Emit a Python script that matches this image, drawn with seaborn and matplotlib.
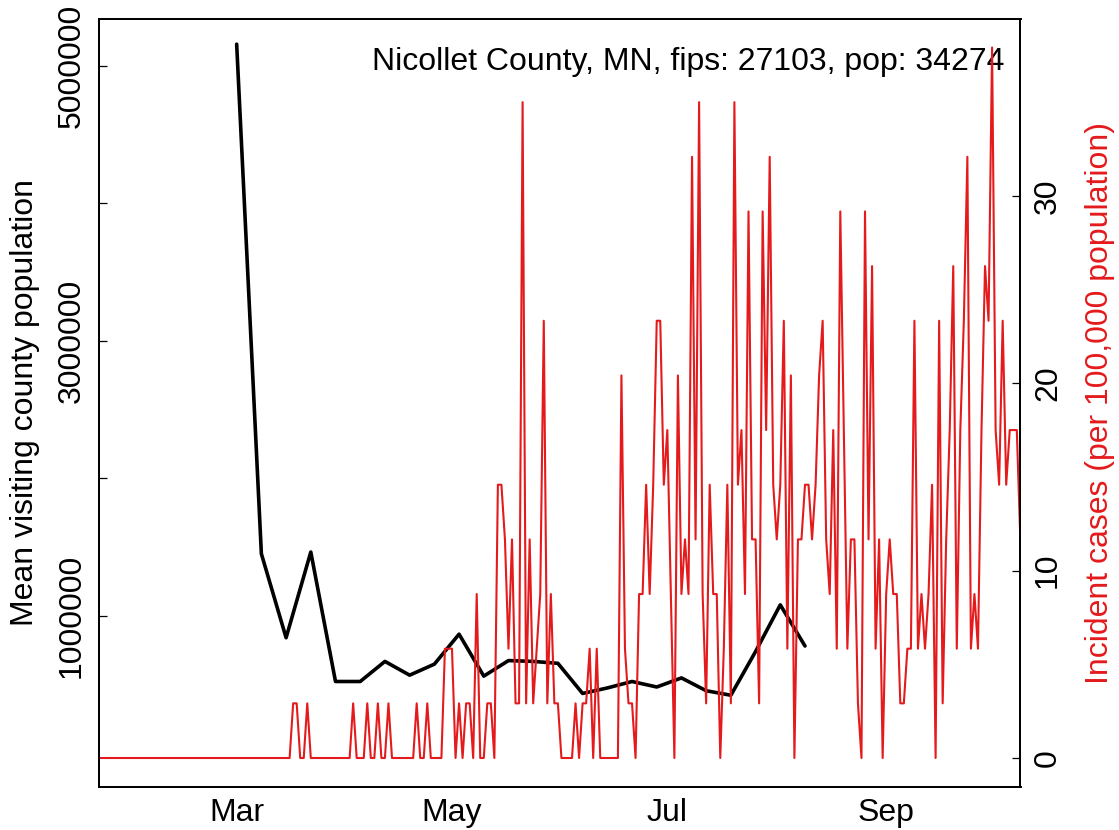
import numpy as np
import pandas as pd
import matplotlib
matplotlib.use("Agg")
import matplotlib.pyplot as plt
import matplotlib.dates as mdates
import seaborn as sns

# DATA
COUNTY_POP = 34274
TITLE = "Nicollet County, MN, fips: 27103, pop: 34274"

# daily new cases, one value per day starting 2020-01-22
case_start = "2020-01-22"
daily_cases = [
    0, 0, 0, 0, 0, 0, 0, 0, 0, 0, 0, 0, 0, 0, 0, 0, 0, 0, 0, 0,
    0, 0, 0, 0, 0, 0, 0, 0, 0, 0, 0, 0, 0, 0, 0, 0, 0, 0, 0, 0,
    0, 0, 0, 0, 0, 0, 0, 0, 0, 0, 0, 0, 0, 0, 0, 1, 1, 0, 0, 1,
    0, 0, 0, 0, 0, 0, 0, 0, 0, 0, 0, 0, 1, 0, 0, 0, 1, 0, 0, 1,
    0, 0, 1, 0, 0, 0, 0, 0, 0, 0, 1, 0, 0, 1, 0, 0, 0, 0, 2, 2,
    2, 0, 1, 0, 1, 1, 0, 3, 0, 0, 1, 1, 0, 5, 5, 4, 2, 4, 1, 1,
    12, 1, 4, 1, 2, 3, 8, 1, 3, 1, 1, 0, 0, 0, 0, 1, 0, 1, 1, 2,
    0, 2, 0, 0, 0, 0, 0, 0, 7, 2, 1, 1, 0, 3, 3, 5, 3, 5, 8, 8,
    5, 6, 3, 0, 7, 3, 4, 3, 11, 4, 12, 3, 1, 5, 3, 3, 0, 2, 5, 1,
    12, 5, 6, 3, 10, 4, 4, 1, 10, 6, 11, 5, 4, 5, 8, 2, 7, 0, 4, 4,
    5, 5, 4, 5, 7, 8, 4, 3, 6, 2, 10, 6, 2, 4, 4, 1, 0, 10, 4, 9,
    2, 4, 0, 3, 4, 3, 3, 1, 1, 2, 2, 8, 2, 3, 2, 3, 5, 0, 8, 1,
    4, 6, 9, 2, 6, 8, 11, 2, 3, 2, 6, 9, 8, 13, 6, 5, 8, 5, 6, 6,
    6, 4,
]

# weekly mean visiting county population, starting 2020-03-01
visit_start = "2020-03-01"
mean_visiting_pop = [
    5155000, 1451000, 841000, 1464000, 523000, 523000, 669000, 569000,
    649000, 867000, 562000, 675000, 669000, 655000, 436000, 476000,
    523000, 483000, 549000, 456000, 423000, 741000, 1080000, 781000,
]

month_ticks = ["2020-03-01", "2020-05-01", "2020-07-01", "2020-09-01"]
left_ticks = [1000000, 2000000, 3000000, 4000000, 5000000]
left_labels = ["1000000", "", "3000000", "", "5000000"]
right_ticks = [0, 10, 20, 30]

cases = pd.DataFrame({
    "date": pd.date_range(case_start, periods=len(daily_cases), freq="D"),
    "incidence": np.array(daily_cases) / COUNTY_POP * 100000,
})
visits = pd.DataFrame({
    "date": pd.date_range(visit_start, periods=len(mean_visiting_pop), freq="7D"),
    "mean_pop": mean_visiting_pop,
})

# STYLE
sns.set_style("white")
plt.rcParams["font.family"] = ["Liberation Sans", "DejaVu Sans"]
plt.rcParams["text.color"] = "black"
plt.rcParams["axes.labelcolor"] = "black"
plt.rcParams["xtick.color"] = "black"
plt.rcParams["ytick.color"] = "black"
FS = 23
RED = "#E41A1C"

fig = plt.figure(figsize=(11.19, 8.30), dpi=100)
ax = fig.add_axes([99 / 1119, 43 / 830, 921.5 / 1119, 768 / 830])

sns.lineplot(data=visits, x="date", y="mean_pop", ax=ax, color="black",
             lw=2.6, estimator=None)
ax2 = ax.twinx()
sns.lineplot(data=cases, x="date", y="incidence", ax=ax2, color=RED,
             lw=1.5, estimator=None)

# x axis
x0 = pd.Timestamp(case_start)
ax.set_xlim(x0, x0 + pd.Timedelta(days=261.05))
ax.set_xticks(pd.to_datetime(month_ticks))
ax.xaxis.set_major_formatter(mdates.DateFormatter("%b"))
ax.set_xlabel("")

# left axis
ax.set_ylim(-243800, 5338000)
ax.set_yticks(left_ticks)
ax.set_yticklabels(left_labels, rotation=90, va="center")
ax.set_ylabel("Mean visiting county population", fontsize=FS)
ax.yaxis.set_label_coords(-0.064, 0.5)

# right axis
ax2.set_ylim(-1.548, 39.45)
ax2.set_yticks(right_ticks)
ax2.set_yticklabels([str(t) for t in right_ticks], rotation=90, va="center")
ax2.set_ylabel("Incident cases (per 100,000 population)", fontsize=FS,
               color=RED)
ax2.yaxis.set_label_coords(1.070, 0.5)
ax2.set_xlabel("")

for a in (ax, ax2):
    a.tick_params(direction="in", length=6, width=0.9, labelsize=FS,
                  color="black", labelcolor="black", pad=9)
    for s in a.spines.values():
        s.set_visible(True)
        s.set_color("black")
        s.set_linewidth(1.3)
ax.tick_params(axis="x", pad=8)

ax.text(0.983, 0.9336, TITLE, transform=ax.transAxes, ha="right",
        va="baseline", fontsize=FS, color="black")

fig.savefig("out.png", dpi=100)
